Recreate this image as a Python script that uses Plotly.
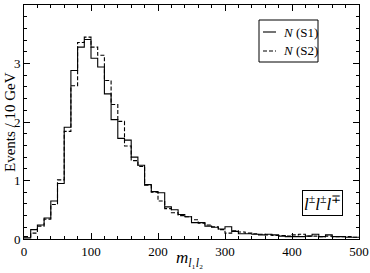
import numpy as np
import plotly.graph_objects as go

bin_width = 10
bin_start = 0
s1_values = [0.02, 0.16, 0.24, 0.36, 0.65, 0.95, 1.91, 2.88, 3.28, 3.41,
             3.09, 2.94, 2.48, 2.04, 1.72, 1.69, 1.40, 1.26, 0.93, 0.81,
             0.79, 0.55, 0.50, 0.42, 0.38, 0.28, 0.28, 0.22, 0.20, 0.17,
             0.21, 0.13, 0.09, 0.09, 0.08, 0.07, 0.08, 0.07, 0.05, 0.04,
             0.04, 0.04, 0.05, 0.08, 0.04, 0.07, 0.04, 0.04, 0.03, 0.03]
s2_values = [0.04, 0.10, 0.22, 0.34, 0.59, 1.01, 1.84, 2.62, 3.36, 3.45,
             3.28, 3.14, 2.71, 2.30, 2.01, 1.59, 1.34, 1.24, 0.92, 0.80,
             0.65, 0.52, 0.45, 0.40, 0.38, 0.33, 0.27, 0.24, 0.21, 0.16,
             0.10, 0.14, 0.12, 0.10, 0.09, 0.08, 0.07, 0.06, 0.06, 0.05,
             0.07, 0.08, 0.05, 0.05, 0.04, 0.05, 0.04, 0.04, 0.04, 0.03]
series_names = ["<i>N</i> (S1)", "<i>N</i> (S2)"]
x_tick_vals = [0, 100, 200, 300, 400, 500]
y_tick_vals = [0, 1, 2, 3, 4]
channel_label = "<i>l</i><sup>±</sup><i>l</i><sup>±</sup><i>l</i><sup>∓</sup>"
x_title = "<i>m</i><sub><i>l</i>₁<i>l</i>₂</sub>"
y_title = "Events / 10 GeV"

def step_xy(vals):
    edges = bin_start + bin_width * np.arange(len(vals) + 1)
    return edges, list(vals) + [vals[-1]]

FONT = "Liberation Serif, Times New Roman, serif"
W, H = 370, 273
ML, MR, MT, MB = 24, 11, 5, 34
PW, PH = W - ML - MR, H - MT - MB

def px(x):  # pixel x -> paper
    return (x - ML) / PW

def py(y):  # pixel y -> paper
    return (H - MB - y) / PH

dashes = ["solid", "4px,2px"]
fig = go.Figure()
for vals, name, dash in zip([s1_values, s2_values], series_names, dashes):
    xs, ys = step_xy(vals)
    fig.add_trace(go.Scatter(x=xs, y=ys, mode="lines", name=name, showlegend=False,
                             hoverinfo="skip",
                             line=dict(shape="hv", color="black", width=1.1, dash=dash)))

axis_common = dict(showline=True, linecolor="black", linewidth=1, mirror="ticks",
                   ticks="inside", tickcolor="black", ticklen=6, showgrid=False,
                   zeroline=False, automargin=False,
                   tickfont=dict(family=FONT, size=13, color="black"))
fig.update_xaxes(range=[0, 500], tickvals=x_tick_vals,
                 minor=dict(dtick=20, ticks="inside", ticklen=3, tickcolor="black", showgrid=False),
                 **axis_common)
fig.update_yaxes(range=[0, 4], tickvals=y_tick_vals,
                 minor=dict(dtick=0.2, ticks="inside", ticklen=3, tickcolor="black", showgrid=False),
                 **axis_common)

# axis titles
fig.add_annotation(x=px(189), y=py(272), xref="paper", yref="paper", text=x_title,
                   showarrow=False, xanchor="center", yanchor="bottom",
                   font=dict(family=FONT, size=17, color="black"))
fig.add_annotation(x=px(10), y=0.5, xref="paper", yref="paper", text=y_title,
                   showarrow=False, xanchor="center", yanchor="middle", textangle=-90,
                   font=dict(family=FONT, size=15, color="black"))

# channel label box
fig.add_annotation(x=px(322), y=py(203), xref="paper", yref="paper", text=channel_label,
                   showarrow=False, xanchor="center", yanchor="middle",
                   font=dict(family=FONT, size=17, color="black"),
                   bordercolor="black", borderwidth=1, borderpad=1, bgcolor="white")

# manual legend
fig.add_shape(type="rect", xref="paper", yref="paper",
              x0=px(259), x1=px(318), y0=py(62), y1=py(20),
              line=dict(color="black", width=1), fillcolor="white", layer="above")
for i, (name, dash) in enumerate(zip(series_names, dashes)):
    yy = py(32 + 19 * i)
    fig.add_shape(type="line", xref="paper", yref="paper",
                  x0=px(263), x1=px(276), y0=yy, y1=yy,
                  line=dict(color="black", width=1.1, dash=dash), layer="above")
    fig.add_annotation(x=px(281), y=yy, xref="paper", yref="paper", text=name,
                       showarrow=False, xanchor="left", yanchor="middle",
                       font=dict(family=FONT, size=13, color="black"))

fig.update_layout(width=W, height=H,
                  margin=dict(l=ML, r=MR, t=MT, b=MB),
                  plot_bgcolor="white", paper_bgcolor="white",
                  showlegend=False, hovermode=False)
fig.write_html("out.html", config={"displayModeBar": False},
               post_script="document.body.style.margin='0px';")
